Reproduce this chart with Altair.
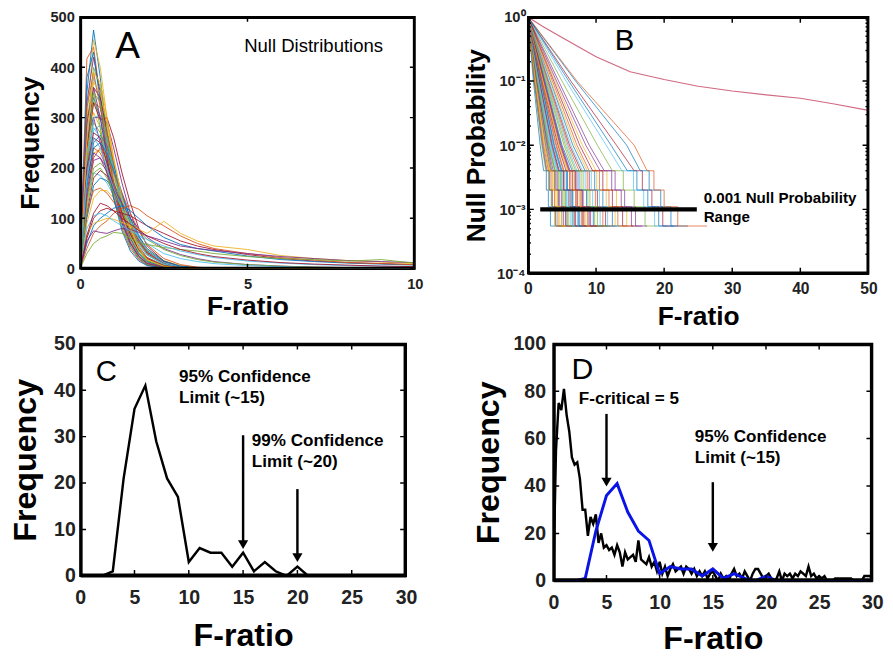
import altair as alt
import pandas as pd

FONT = "Liberation Sans"
MATLAB_COLORS = ["#0072BD", "#D95319", "#EDB120", "#7E2F8E", "#77AC30", "#4DBEEE", "#A2142F"]

# ---------------- Panel A : null distributions ----------------
A_X = [0, 0.2, 0.4, 0.6, 0.8, 1.0, 1.25, 1.5, 1.75, 2.0, 2.5, 3.0, 3.5, 4.0, 5.0, 6.0, 7.0, 8.0, 9.0, 10.0]
A_CURVES = [
    [0, 350, 474, 380, 260, 170, 90, 45, 20, 8, 2, 0, 0, 0, 0, 0, 0, 0, 0, 0],
    [10, 417, 440, 340, 230, 150, 80, 40, 18, 7, 1, 0, 0, 0, 0, 0, 0, 0, 0, 0],
    [0, 300, 455, 400, 300, 210, 120, 60, 28, 12, 3, 1, 0, 0, 0, 0, 0, 0, 0, 0],
    [20, 330, 420, 350, 250, 170, 100, 52, 25, 10, 3, 1, 0, 0, 0, 0, 0, 0, 0, 0],
    [0, 280, 400, 360, 280, 200, 120, 65, 32, 14, 4, 1, 0, 0, 0, 0, 0, 0, 0, 0],
    [5, 260, 380, 330, 250, 180, 110, 60, 30, 14, 4, 1, 0, 0, 0, 0, 0, 0, 0, 0],
    [0, 240, 360, 340, 270, 200, 130, 75, 40, 20, 5, 1, 0, 0, 0, 0, 0, 0, 0, 0],
    [30, 250, 340, 300, 230, 170, 110, 60, 30, 14, 4, 1, 0, 0, 0, 0, 0, 0, 0, 0],
    [0, 220, 330, 320, 270, 210, 140, 85, 45, 22, 6, 2, 0, 0, 0, 0, 0, 0, 0, 0],
    [15, 230, 310, 280, 220, 165, 110, 65, 35, 17, 5, 1, 0, 0, 0, 0, 0, 0, 0, 0],
    [0, 200, 300, 300, 290, 240, 170, 110, 65, 35, 10, 3, 1, 0, 0, 0, 0, 0, 0, 0],
    [40, 210, 290, 270, 220, 170, 115, 70, 38, 19, 6, 2, 0, 0, 0, 0, 0, 0, 0, 0],
    [0, 180, 275, 285, 250, 200, 140, 90, 50, 27, 8, 2, 1, 0, 0, 0, 0, 0, 0, 0],
    [10, 190, 260, 250, 210, 165, 115, 70, 40, 20, 6, 2, 0, 0, 0, 0, 0, 0, 0, 0],
    [0, 160, 250, 265, 245, 205, 150, 100, 60, 32, 10, 3, 1, 0, 0, 0, 0, 0, 0, 0],
    [60, 180, 240, 230, 200, 160, 115, 75, 42, 22, 7, 2, 1, 0, 0, 0, 0, 0, 0, 0],
    [0, 150, 230, 235, 215, 180, 135, 90, 55, 30, 10, 3, 1, 0, 0, 0, 0, 0, 0, 0],
    [20, 140, 215, 220, 200, 170, 130, 90, 55, 30, 10, 3, 1, 0, 0, 0, 0, 0, 0, 0],
    [0, 130, 200, 210, 195, 165, 125, 85, 52, 28, 9, 3, 1, 0, 0, 0, 0, 0, 0, 0],
    [80, 150, 190, 185, 170, 145, 110, 78, 48, 27, 9, 3, 1, 0, 0, 0, 0, 0, 0, 0],
    [0, 110, 180, 195, 185, 160, 125, 90, 58, 33, 12, 4, 1, 1, 0, 0, 0, 0, 0, 0],
    [0, 100, 165, 180, 175, 155, 125, 92, 60, 36, 14, 5, 2, 1, 0, 0, 0, 0, 0, 0],
    [30, 110, 155, 160, 150, 132, 105, 78, 52, 32, 13, 5, 2, 1, 0, 0, 0, 0, 0, 0],
    [0, 90, 140, 155, 155, 140, 115, 88, 60, 38, 16, 6, 2, 1, 0, 0, 0, 0, 0, 0],
    [10, 260, 300, 250, 190, 140, 90, 50, 25, 11, 3, 1, 0, 0, 0, 0, 0, 0, 0, 0],
    [0, 300, 350, 280, 200, 140, 85, 45, 22, 9, 2, 0, 0, 0, 0, 0, 0, 0, 0, 0],
    [0, 190, 300, 305, 260, 200, 135, 80, 42, 20, 6, 1, 0, 0, 0, 0, 0, 0, 0, 0],
    [0, 240, 330, 295, 300, 260, 190, 130, 80, 45, 15, 4, 1, 0, 0, 0, 0, 0, 0, 0],
    [0, 380, 430, 330, 220, 140, 75, 35, 15, 6, 1, 0, 0, 0, 0, 0, 0, 0, 0, 0],
    [5, 320, 390, 320, 240, 170, 100, 55, 26, 11, 3, 1, 0, 0, 0, 0, 0, 0, 0, 0],
    [0, 270, 370, 350, 290, 220, 140, 80, 40, 18, 5, 1, 0, 0, 0, 0, 0, 0, 0, 0],
    [25, 290, 360, 300, 220, 155, 95, 50, 24, 10, 3, 1, 0, 0, 0, 0, 0, 0, 0, 0],
    [0, 210, 350, 330, 260, 190, 120, 70, 36, 16, 5, 1, 0, 0, 0, 0, 0, 0, 0, 0],
    [0, 230, 280, 260, 230, 190, 140, 95, 60, 35, 12, 4, 1, 0, 0, 0, 0, 0, 0, 0],
    [50, 200, 270, 260, 210, 160, 110, 68, 38, 20, 6, 2, 0, 0, 0, 0, 0, 0, 0, 0],
    [0, 170, 240, 250, 230, 195, 145, 100, 65, 40, 15, 5, 2, 1, 0, 0, 0, 0, 0, 0],
    [0, 140, 220, 240, 225, 190, 150, 110, 75, 48, 20, 8, 3, 1, 0, 0, 0, 0, 0, 0],
    [0, 250, 390, 370, 300, 220, 140, 80, 40, 18, 5, 1, 0, 0, 0, 0, 0, 0, 0, 0],
    [0, 150, 230, 220, 190, 160, 130, 100, 80, 62, 40, 28, 20, 14, 8, 5, 3, 2, 1, 1],
    [0, 120, 190, 200, 180, 150, 120, 95, 75, 58, 38, 26, 18, 13, 8, 5, 3, 2, 1, 1],
    [0, 180, 260, 240, 200, 160, 120, 90, 68, 50, 30, 20, 14, 10, 6, 4, 2, 1, 1, 0],
    [0, 60, 100, 115, 120, 115, 110, 105, 95, 85, 70, 55, 45, 38, 28, 20, 15, 12, 10, 8],
    [0, 50, 85, 100, 110, 120, 125, 115, 100, 85, 62, 48, 40, 35, 25, 18, 14, 11, 9, 7],
    [0, 40, 70, 85, 95, 110, 120, 125, 118, 105, 85, 65, 50, 40, 30, 22, 17, 12, 10, 8],
    [0, 70, 90, 95, 100, 98, 92, 85, 78, 70, 94, 70, 55, 45, 38, 26, 20, 16, 13, 10],
    [0, 55, 75, 72, 70, 75, 80, 78, 72, 65, 55, 45, 40, 36, 30, 24, 20, 16, 14, 12],
    [0, 30, 50, 60, 65, 72, 70, 60, 52, 48, 42, 38, 35, 30, 24, 20, 18, 15, 18, 11],
    [0, 80, 105, 110, 105, 95, 85, 75, 66, 58, 45, 35, 28, 22, 15, 11, 8, 6, 5, 4],
    [0, 65, 110, 130, 125, 115, 100, 88, 76, 65, 50, 38, 30, 24, 17, 12, 9, 7, 5, 4],
]
A_XTICKS = [0, 5, 10]
A_YTICKS = [0, 100, 200, 300, 400, 500]

# ---------------- Panel B : null probability (survival) ----------------
B_LEVELS = [1, 0.1, 0.01, 0.004, 0.004, 0.002, 0.002, 0.0011, 0.0011, 0.00055, 0.00055]
B_CURVES = [
    [0.8, 1.8, 2.3, 2.7, 3.0, 3.3, 4.0],
    [1.0, 2.2, 2.8, 3.2, 3.6, 4.0, 5.0],
    [1.1, 2.5, 3.1, 3.6, 4.1, 4.6, 5.6],
    [1.3, 2.8, 3.5, 4.1, 4.6, 5.2, 6.2],
    [1.4, 3.0, 3.9, 4.5, 5.1, 5.8, 7.0],
    [1.6, 3.3, 4.3, 5.0, 5.6, 6.3, 7.6],
    [1.7, 3.6, 4.6, 5.3, 6.0, 6.8, 8.0],
    [1.9, 3.9, 5.0, 5.8, 6.6, 7.4, 8.5],
    [2.0, 4.2, 5.3, 6.1, 7.0, 7.9, 9.2],
    [2.2, 4.5, 5.8, 6.6, 7.6, 8.4, 9.8],
    [2.4, 4.9, 6.2, 7.2, 8.1, 9.0, 10.5],
    [2.6, 5.3, 6.7, 7.8, 8.8, 9.8, 11.2],
    [2.8, 5.7, 7.2, 8.4, 9.5, 10.6, 12.0],
    [3.0, 6.1, 7.8, 9.0, 10.2, 11.4, 13.0],
    [3.3, 6.6, 8.4, 9.8, 11.0, 12.4, 13.8],
    [3.6, 7.2, 9.0, 10.5, 11.9, 13.2, 14.6],
    [4.0, 8.0, 10.0, 11.6, 13.0, 14.5, 16.0],
    [4.5, 9.0, 11.2, 12.8, 14.2, 15.8, 17.5],
    [5.0, 10.2, 12.4, 14.0, 15.6, 17.2, 19.0],
    [5.6, 11.5, 13.8, 15.5, 17.0, 18.6, 20.5],
    [6.3, 13.0, 15.6, 16.8, 18.2, 19.8, 22.0],
    [7.0, 14.5, 16.5, 17.8, 19.5, 21.0, 23.5],
    [7.2, 15.6, 17.5, 18.5, 20.0, 22.0, 26.3],
    [0.9, 2.0, 2.6, 3.0, 3.4, 3.9, 4.8],
    [1.2, 2.6, 3.3, 3.9, 4.5, 5.5, 6.8],
    [1.5, 3.1, 4.0, 4.8, 5.5, 6.6, 8.3],
    [1.8, 3.7, 4.8, 5.6, 6.4, 7.3, 9.0],
    [2.1, 4.4, 5.6, 6.5, 7.3, 8.2, 10.2],
    [2.5, 5.0, 6.5, 7.5, 8.6, 9.6, 11.8],
    [2.9, 5.9, 7.5, 8.7, 9.9, 11.0, 12.6],
    [3.4, 6.9, 8.7, 10.1, 11.5, 12.8, 14.3],
    [4.2, 8.5, 10.6, 12.3, 13.7, 15.2, 16.8],
    [1.2, 2.7, 3.4, 4.0, 4.4, 4.9, 6.0],
    [1.6, 3.4, 4.4, 5.2, 5.9, 6.6, 7.8],
    [2.3, 4.7, 6.0, 6.9, 7.8, 8.8, 10.0],
    [0.9, 2.1, 2.7, 3.1, 3.5, 4.1, 5.2],
    [1.0, 2.3, 3.0, 3.4, 3.9, 4.4, 5.4],
    [1.1, 2.4, 3.2, 3.8, 4.3, 5.0, 6.5],
    [1.3, 2.9, 3.7, 4.3, 4.9, 5.6, 7.2],
    [1.4, 3.1, 4.0, 4.7, 5.3, 6.0, 7.4],
    [1.5, 3.2, 4.2, 4.9, 5.7, 6.5, 8.1],
    [1.7, 3.5, 4.5, 5.2, 6.2, 7.0, 8.8],
    [1.9, 3.8, 4.9, 5.7, 6.5, 7.6, 9.5],
    [2.0, 4.1, 5.2, 6.2, 7.1, 8.0, 9.4],
    [2.2, 4.6, 5.9, 6.8, 7.7, 8.7, 10.8],
    [2.4, 4.8, 6.1, 7.0, 8.0, 9.2, 11.0],
    [2.7, 5.5, 7.0, 8.1, 9.1, 10.2, 12.2],
    [3.1, 6.3, 8.0, 9.3, 10.5, 11.7, 13.5],
    [3.8, 7.6, 9.5, 11.0, 12.4, 13.9, 15.5],
    [6.0, 12.2, 14.6, 16.0, 17.6, 19.2, 21.4],
]
B_RED_X = [0, 2, 5, 10, 15, 20, 25, 30, 35, 40, 45, 50]
B_RED_Y = [1, 0.73, 0.48, 0.24, 0.14, 0.106, 0.083, 0.070, 0.061, 0.054, 0.044, 0.035]
B_BAR_X = [1.8]
B_BAR_X2 = [24.8]
B_BAR_Y = [0.001]
B_XTICKS = [0, 10, 20, 30, 40, 50]
B_YMAJOR = [0.0001, 0.001, 0.01, 0.1, 1]
B_YMINOR = [0.0002, 0.0003, 0.0004, 0.0005, 0.0006, 0.0007, 0.0008, 0.0009,
            0.002, 0.003, 0.004, 0.005, 0.006, 0.007, 0.008, 0.009,
            0.02, 0.03, 0.04, 0.05, 0.06, 0.07, 0.08, 0.09,
            0.2, 0.3, 0.4, 0.5, 0.6, 0.7, 0.8, 0.9]

# ---------------- Panel C : distribution of F-ratios ----------------
C_X = list(range(0, 31))
C_Y = [0, 0, 0, 1, 21, 36, 41, 29, 21, 17, 3, 6, 5, 5, 2, 5, 1, 3, 1, 0, 2,
       0, 0, 0, 0, 0, 0, 0, 0, 0, 0]
C_XTICKS = [0, 5, 10, 15, 20, 25, 30]
C_YTICKS = [0, 10, 20, 30, 40, 50]

# ---------------- Panel D : observed vs null ----------------
D_BIN = 0.25
D_Y = [0, 55, 75, 72, 81, 70, 63, 52, 49, 50, 43, 30, 30, 19, 27, 24, 28, 16, 20, 14,
       15, 13, 14, 11, 15, 12, 6, 12, 9, 10, 11, 8, 17, 9, 8, 7, 10, 6, 8, 4,
       8, 3, 6, 2, 5, 7, 4, 5, 6, 3, 6, 5, 3, 5, 2, 4, 2, 4, 1, 3,
       4, 2, 0, 3, 1, 2, 0, 3, 5, 2, 3, 1, 4, 2, 0, 3, 5, 5, 3, 1,
       2, 3, 1, 0, 1, 4, 0, 3, 2, 3, 1, 3, 2, 4, 3, 2, 6, 2, 3, 1,
       2, 1, 2, 0, 0, 0, 1, 1, 1, 1, 1, 1, 1, 0, 0, 0, 0, 2, 2, 2, 1]
D_X = [i * D_BIN for i in range(len(D_Y))]
D_XTICKS = [0, 5, 10, 15, 20, 25, 30]
D_YTICKS = [0, 20, 40, 60, 80, 100]


# ---------------- helpers ----------------
def xenc(dom, vals, title, lfs, tfs, lp, tp):
    return alt.X("x:Q", scale=alt.Scale(domain=dom, nice=False, zero=False),
                 axis=alt.Axis(values=vals, title=title, orient="bottom", ticks=False,
                               domain=True, domainColor="black", domainWidth=2, grid=False,
                               labelFontSize=lfs, titleFontSize=tfs,
                               labelPadding=lp, titlePadding=tp, labelFlush=False, minExtent=0,
                               labelOverlap=False, labelBound=False))


def yenc(dom, vals, title, lfs, tfs, lp, tp, log=False, expr=None):
    sc = alt.Scale(domain=dom, type="log", nice=False) if log else alt.Scale(domain=dom, nice=False, zero=False)
    kw = dict(values=vals, title=title, orient="left", ticks=False, domain=True, domainColor="black",
              domainWidth=2, grid=False,
              labelFontSize=lfs, titleFontSize=tfs, labelPadding=lp, titlePadding=tp, minExtent=0,
              labelFlush=False, labelOverlap=False, labelBound=False)
    if expr:
        kw["labelExpr"] = expr
    return alt.Y("y:Q", scale=sc, axis=alt.Axis(**kw))


def frame_marks(xdom, ydom, xvals, yvals, X, Y, w, h, ts, sw, log=False, minor=None):
    """Axes box and inward tick marks, drawn as clipped polylines in data space."""
    x0, x1 = xdom
    y0, y1 = ydom
    dxt = ts * (x1 - x0) / w
    if log:
        f = 10 ** (ts * 4.0 / h)
        yb0, yb1 = y0 * f, y1 / f
    else:
        dyt = ts * (y1 - y0) / h
        yb0, yb1 = y0 + dyt, y1 - dyt
    box = pd.DataFrame({"x": [x0, x1, x1, x0, x0], "y": [y0, y0, y1, y1, y0], "i": [0, 1, 2, 3, 4]})
    rows = []
    k = 0
    for v in xvals:
        for (a, b) in ((y0, yb0), (y1, yb1)):
            rows += [{"id": k, "i": 0, "x": v, "y": a}, {"id": k, "i": 1, "x": v, "y": b}]
            k += 1
    for v in yvals:
        for (a, b) in ((x0, x0 + dxt), (x1, x1 - dxt)):
            rows += [{"id": k, "i": 0, "x": a, "y": v}, {"id": k, "i": 1, "x": b, "y": v}]
            k += 1
    for v in (minor or []):
        for (a, b) in ((x0, x0 + dxt / 2), (x1, x1 - dxt / 2)):
            rows += [{"id": k, "i": 0, "x": a, "y": v}, {"id": k, "i": 1, "x": b, "y": v}]
            k += 1
    ticks = pd.DataFrame(rows)
    return [
        alt.Chart(ticks).mark_line(color="black", strokeWidth=1.5, clip=True).encode(
            x=X, y=Y, detail="id:N", order="i:Q"),
        alt.Chart(box).mark_line(color="black", strokeWidth=2 * sw, clip=True).encode(
            x=X, y=Y, order="i:Q"),
    ]


def texts(items, X, Y, size, weight):
    df = pd.DataFrame(items, columns=["t", "x", "y"])
    return alt.Chart(df).mark_text(align="left", baseline="middle", font=FONT, fontSize=size,
                                   fontWeight=weight, color="black").encode(x=X, y=Y, text="t:N")


def arrows(xs, tops, bottoms, heads, X, Y, size):
    df = pd.DataFrame({"x": xs, "y": tops, "y2": bottoms})
    dh = pd.DataFrame({"x": xs, "y": heads})
    shaft = alt.Chart(df).mark_rule(color="black", strokeWidth=2.5).encode(x=X, y=Y, y2=alt.Y2("y2:Q"))
    head = alt.Chart(dh).mark_point(shape="triangle-down", filled=True, color="black", opacity=1,
                                    size=size).encode(x=X, y=Y)
    return [shaft, head]


# ---------------- Panel A ----------------
WA, HA = 343, 258
rows = []
for k, curve in enumerate(A_CURVES):
    for i, (xv, yv) in enumerate(zip(A_X, curve)):
        rows.append({"id": k, "i": i, "x": xv, "y": yv})
dfA = pd.DataFrame(rows)
AX = xenc([0, 10], A_XTICKS, "F-ratio", 15, 27, 8, 3)
AY = yenc([0, 500], A_YTICKS, "Frequency", 15, 27, 6, 6)
linesA = alt.Chart(dfA).mark_line(strokeWidth=1, clip=True, opacity=0.9).encode(
    x=AX, y=AY, detail="id:N", order="i:Q",
    color=alt.Color("id:N", scale=alt.Scale(range=MATLAB_COLORS), legend=None))
textA1 = texts([("A", 1.05, 440)], AX, AY, 38, "normal")
textA2 = texts([("Null Distributions", 4.9, 442)], AX, AY, 19, "normal")
panelA = alt.layer(linesA,
                   *frame_marks([0, 10], [0, 500], A_XTICKS, A_YTICKS, AX, AY, WA, HA, 5, 2),
                   textA1, textA2).properties(width=WA, height=HA)

# ---------------- Panel B ----------------
WB, HB = 349, 263
rows = []
for k, c in enumerate(B_CURVES):
    xs = [0, c[0], c[1], c[2], c[3], c[3], c[4], c[4], c[5], c[5], c[6]]
    for i, (xv, yv) in enumerate(zip(xs, B_LEVELS)):
        rows.append({"id": k, "i": i, "x": xv, "y": yv})
dfB = pd.DataFrame(rows)
dfRed = pd.DataFrame({"x": B_RED_X, "y": B_RED_Y, "i": range(len(B_RED_X))})
B_EXPR = ("datum.value == 1 ? '10\u2070' : datum.value == 0.1 ? '10\u207b\u00b9' : "
          "datum.value == 0.01 ? '10\u207b\u00b2' : datum.value == 0.001 ? '10\u207b\u00b3' : "
          "datum.value == 0.0001 ? '10\u207b\u2074' : ''")
BX = xenc([0, 50], B_XTICKS, "F-ratio", 16, 27, 8, 7)
BY = yenc([0.0001, 1], B_YMAJOR, "Null Probability", 15, 27, 3, 6, log=True, expr=B_EXPR)
linesB = alt.Chart(dfB).mark_line(strokeWidth=1, clip=True, opacity=0.7).encode(
    x=BX, y=BY, detail="id:N", order="i:Q",
    color=alt.Color("id:N", scale=alt.Scale(range=MATLAB_COLORS), legend=None))
redB = alt.Chart(dfRed).mark_line(strokeWidth=1.2, color="#CF6A80", clip=True).encode(x=BX, y=BY, order="i:Q")
barB = alt.Chart(pd.DataFrame({"x": B_BAR_X, "x2": B_BAR_X2, "y": B_BAR_Y})).mark_rule(
    color="black", strokeWidth=4.5).encode(x=BX, x2=alt.X2("x2:Q"), y=BY)
textB1 = texts([("B", 12.75, 0.417)], BX, BY, 30, "normal")
textB2 = texts([("0.001 Null Probability", 25.8, 0.00148), ("Range", 25.8, 0.00075)], BX, BY, 15.5, "bold")
panelB = alt.layer(linesB, redB,
                   *frame_marks([0, 50], [0.0001, 1], B_XTICKS, B_YMAJOR, BX, BY, WB, HB, 6, 2,
                                log=True, minor=B_YMINOR),
                   barB, textB1, textB2).properties(width=WB, height=HB)

# ---------------- Panel C ----------------
WC, HC = 334, 238
dfC = pd.DataFrame({"x": C_X, "y": C_Y})
CX = xenc([0, 30], C_XTICKS, "F-ratio", 20, 33, 12, 13)
CY = yenc([0, 50], C_YTICKS, "Frequency", 20, 33, 5, 12)
lineC = alt.Chart(dfC).mark_line(color="black", strokeWidth=2.5, clip=True).encode(x=CX, y=CY)
arrC = arrows([15, 20], [30.3, 18.7], [7, 4], [6.75, 3.95], CX, CY, 110)
textC1 = texts([("C", 1.44, 43.8)], CX, CY, 30, "normal")
textC2 = texts([("95% Confidence", 9.1, 42.9), ("Limit (~15)", 9.1, 38.3),
                ("99% Confidence", 15.8, 29.0), ("Limit (~20)", 15.8, 24.6)], CX, CY, 17.5, "bold")
panelC = alt.layer(lineC,
                   *frame_marks([0, 30], [0, 50], C_XTICKS, C_YTICKS, CX, CY, WC, HC, 6, 2.5),
                   *arrC, textC1, textC2).properties(width=WC, height=HC)

# ---------------- Panel D ----------------
WD, HD = 327, 243
dfD = pd.DataFrame({"x": D_X, "y": D_Y})
DX = xenc([0, 30], D_XTICKS, "F-ratio", 20, 33, 12, 11)
DY = yenc([0, 100], D_YTICKS, "Frequency", 20, 33, 8, 8)
lineD = alt.Chart(dfD).mark_line(color="black", strokeWidth=2.5, clip=True).encode(x=DX, y=DY)
blueD = alt.Chart(dfC).mark_line(color="#0A14E6", strokeWidth=3, clip=True).encode(x=DX, y=DY)
arrD = arrows([5, 15], [70.4, 41.6], [42, 14.5], [41.6, 14.1], DX, DY, 110)
textD1 = texts([("D", 1.7, 88.8)], DX, DY, 31, "normal")
textD2 = texts([("F-critical = 5", 2.4, 76.5), ("95% Confidence", 13.3, 60.8),
                ("Limit (~15)", 13.3, 51.9)], DX, DY, 17.5, "bold")
panelD = alt.layer(lineD, blueD,
                   *frame_marks([0, 30], [0, 100], D_XTICKS, D_YTICKS, DX, DY, WD, HD, 6, 2.5),
                   *arrD, textD1, textD2).properties(width=WD, height=HD)

chart = alt.vconcat(
    alt.hconcat(panelA, panelB, spacing=38),
    alt.hconcat(panelC, panelD, spacing=54),
    spacing=3,
).properties(
    padding={"left": 0, "top": -7, "right": 0, "bottom": -4}, background="white"
).configure_view(
    stroke="black", strokeWidth=2
).configure_axis(
    labelFont=FONT, titleFont=FONT, labelFontWeight="bold", titleFontWeight="bold",
    labelColor="#222222", titleColor="black"
)

chart.save("out.html", embed_options={"renderer": "svg", "actions": False})
